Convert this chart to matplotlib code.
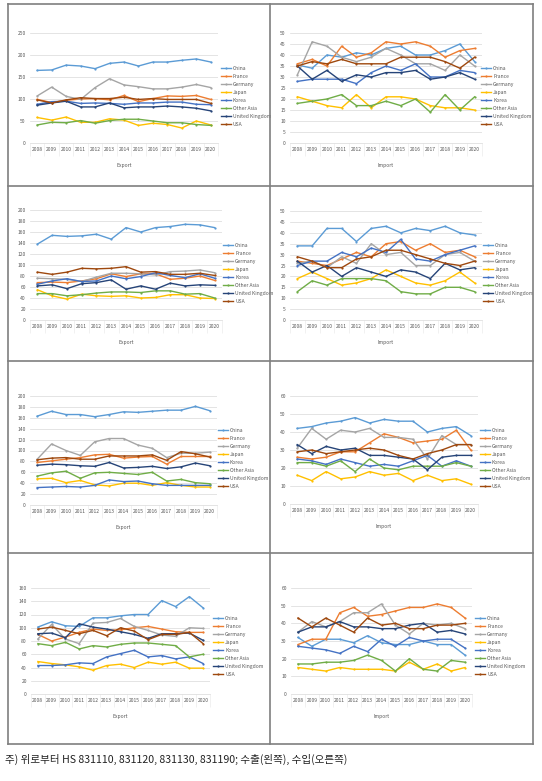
import matplotlib
matplotlib.use("Agg")
import matplotlib.pyplot as plt
from matplotlib.lines import Line2D

years = [str(y) for y in range(2008, 2021)]
series_names = ["China", "France", "Germany", "Japan", "Korea", "Other Asia", "United Kingdom", "USA"]
series_colors = ["#5B9BD5", "#ED7D31", "#A5A5A5", "#FFC000", "#4472C4", "#70AD47", "#264478", "#9E480E"]

# HS 831110 export / import
hs831110_export = {
    "China": [165, 166, 177, 175, 169, 181, 184, 175, 184, 184, 188, 191, 184],
    "France": [99, 92, 97, 100, 101, 98, 108, 94, 101, 107, 106, 108, 99],
    "Germany": [107, 127, 106, 99, 126, 146, 132, 128, 123, 123, 127, 133, 126],
    "Japan": [58, 52, 59, 47, 47, 55, 52, 40, 45, 42, 34, 50, 41],
    "Korea": [88, 94, 95, 90, 91, 90, 88, 91, 91, 93, 93, 88, 87],
    "Other Asia": [41, 47, 46, 51, 45, 51, 54, 54, 50, 46, 46, 42, 40],
    "United Kingdom": [86, 91, 95, 82, 82, 91, 80, 82, 82, 84, 82, 79, 73],
    "USA": [98, 91, 98, 103, 101, 101, 104, 99, 101, 99, 99, 99, 90],
}
hs831110_import = {
    "China": [35.5, 34, 40, 39, 41, 40, 43, 44, 40, 40, 42, 45, 37],
    "France": [36, 38, 35, 44, 39, 41, 46, 45, 46, 44, 39, 42, 43],
    "Germany": [31, 46, 44, 39, 37, 39, 43, 40, 36, 36, 33, 40, 35],
    "Japan": [21, 19, 17, 16, 22, 16, 21, 21, 20, 17, 16, 16, 15],
    "Korea": [28, 29, 29, 29, 27, 32, 35, 33, 36, 30, 30, 33, 32],
    "Other Asia": [18, 19, 20, 22, 17, 17, 19, 17, 20, 14, 22, 15, 21],
    "United Kingdom": [35, 29, 33, 28, 31, 30, 32, 32, 33, 29, 30, 32, 29],
    "USA": [35, 37, 36, 38, 36, 36, 36, 39, 39, 39, 37, 34, 39],
}
# HS 831120
hs831120_export = {
    "China": [138, 154, 152, 153, 156, 147, 168, 160, 168, 170, 174, 173, 168],
    "France": [68, 69, 68, 71, 75, 84, 79, 84, 84, 74, 76, 80, 72],
    "Germany": [76, 75, 74, 70, 78, 85, 85, 84, 82, 88, 89, 91, 86],
    "Japan": [55, 44, 38, 47, 44, 43, 44, 40, 41, 46, 46, 40, 39],
    "Korea": [65, 71, 75, 70, 71, 80, 75, 79, 86, 81, 77, 84, 76],
    "Other Asia": [48, 48, 44, 46, 49, 51, 51, 50, 53, 53, 47, 48, 40],
    "United Kingdom": [62, 64, 57, 66, 68, 73, 56, 62, 56, 67, 62, 64, 63],
    "USA": [87, 83, 87, 94, 93, 94, 97, 87, 88, 83, 83, 85, 81],
}
hs831120_import = {
    "China": [34, 34, 42, 42, 36, 42, 43, 40, 42, 41, 43, 40, 39],
    "France": [27, 26, 25, 28, 31, 29, 35, 36, 32, 35, 31, 32, 29],
    "Germany": [26, 27, 24, 29, 26, 35, 30, 31, 25, 25, 30, 31, 27],
    "Japan": [19, 22, 19, 16, 17, 19, 23, 20, 17, 16, 18, 22, 17],
    "Korea": [25, 27, 27, 31, 29, 33, 31, 37, 28, 27, 30, 32, 34],
    "Other Asia": [13, 18, 16, 19, 19, 19, 18, 13, 12, 12, 15, 15, 13],
    "United Kingdom": [27, 22, 25, 20, 24, 22, 20, 23, 22, 19, 26, 23, 24],
    "USA": [29, 27, 24, 24, 28, 29, 32, 32, 30, 28, 26, 25, 27],
}
# HS 831130
hs831130_export = {
    "China": [163, 172, 166, 166, 162, 166, 171, 170, 172, 174, 174, 181, 173],
    "France": [78, 81, 84, 87, 92, 93, 86, 88, 89, 75, 89, 89, 89],
    "Germany": [84, 112, 100, 91, 116, 122, 122, 110, 104, 87, 95, 95, 97],
    "Japan": [48, 49, 41, 45, 37, 35, 40, 40, 36, 41, 36, 33, 33],
    "Korea": [32, 33, 34, 33, 36, 46, 43, 44, 39, 36, 36, 36, 36],
    "Other Asia": [53, 59, 62, 49, 59, 60, 58, 56, 60, 44, 47, 41, 39],
    "United Kingdom": [73, 75, 74, 72, 71, 78, 68, 69, 71, 67, 70, 77, 72],
    "USA": [83, 86, 87, 84, 84, 90, 90, 90, 92, 82, 98, 94, 88],
}
hs831130_import = {
    "China": [42, 43, 45, 46, 48, 45, 47, 46, 46, 40, 42, 43, 38],
    "France": [26, 25, 26, 29, 29, 34, 39, 37, 34, 35, 36, 41, 30],
    "Germany": [31, 42, 36, 41, 40, 42, 37, 37, 36, 25, 38, 33, 33],
    "Japan": [16, 13, 18, 14, 15, 18, 16, 17, 13, 16, 13, 14, 11],
    "Korea": [25, 24, 22, 25, 23, 21, 22, 21, 24, 27, 21, 24, 21],
    "Other Asia": [23, 23, 21, 24, 18, 25, 20, 19, 21, 21, 21, 23, 21],
    "United Kingdom": [33, 28, 32, 30, 31, 27, 27, 26, 25, 19, 26, 27, 27],
    "USA": [29, 30, 28, 29, 30, 31, 30, 27, 25, 28, 30, 33, 33],
}
# HS 831190
hs831190_export = {
    "China": [101, 109, 103, 102, 115, 115, 118, 120, 120, 141, 132, 147, 130],
    "France": [90, 80, 86, 93, 98, 96, 97, 100, 102, 98, 94, 93, 93],
    "Germany": [83, 105, 83, 76, 107, 108, 114, 102, 96, 89, 87, 100, 99],
    "Japan": [49, 46, 44, 41, 36, 43, 45, 40, 48, 45, 48, 39, 39],
    "Korea": [43, 43, 44, 47, 46, 56, 61, 66, 56, 58, 53, 56, 46],
    "Other Asia": [76, 73, 78, 68, 73, 71, 75, 77, 77, 75, 73, 56, 60],
    "United Kingdom": [91, 92, 85, 106, 101, 98, 94, 90, 84, 91, 91, 92, 81],
    "USA": [98, 101, 96, 91, 96, 88, 100, 95, 82, 90, 90, 93, 76],
}
hs831190_import = {
    "China": [32, 27, 31, 31, 29, 33, 29, 28, 28, 30, 28, 28, 22],
    "France": [28, 31, 31, 46, 49, 44, 45, 47, 49, 49, 51, 49, 43],
    "Germany": [35, 41, 38, 41, 46, 46, 51, 39, 34, 40, 39, 40, 37],
    "Japan": [15, 14, 13, 15, 14, 14, 14, 13, 18, 14, 17, 13, 15],
    "Korea": [27, 26, 25, 23, 27, 24, 31, 27, 32, 30, 31, 31, 26],
    "Other Asia": [17, 17, 18, 18, 19, 22, 19, 13, 20, 14, 13, 19, 18],
    "United Kingdom": [35, 38, 38, 41, 38, 38, 37, 37, 39, 40, 35, 36, 34],
    "USA": [43, 38, 43, 39, 35, 43, 39, 40, 37, 37, 39, 39, 40],
}

footnote = "주) 위로부터 HS 831110, 831120, 831130, 831190; 수출(왼쪽), 수입(오른쪽)"

W, H = 542, 781
fig = plt.figure(figsize=(W / 100, H / 100), dpi=100)
plt.rcParams['font.family'] = ['Noto Sans CJK KR', 'DejaVu Sans']


def fx(px):
    return px / W


def fy(py):
    return 1 - py / H


panels = [
    (hs831110_export, (30, 218, 33, 143), 250, 50, "Export", (221, 66)),
    (hs831110_import, (290, 482, 33, 143), 50, 5, "Import", (481, 66)),
    (hs831120_export, (30, 222, 210, 320), 200, 20, "Export", (223, 243)),
    (hs831120_import, (290, 482, 211, 320), 50, 5, "Import", (483, 243)),
    (hs831130_export, (30, 217, 396, 505), 200, 20, "Export", (218, 428)),
    (hs831130_import, (290, 478, 396, 504), 60, 10, "Import", (480, 428)),
    (hs831190_export, (31, 210, 588, 694), 160, 20, "Export", (213, 616)),
    (hs831190_import, (291, 472, 588, 694), 60, 10, "Import", (475, 616)),
]

fs = 3.6
for data, (l, r, t, b), ymax, ystep, xl, (lx, ly) in panels:
    ax = fig.add_axes([fx(l), fy(b), fx(r - l), (b - t) / H])
    x = list(range(len(years)))
    for name, col in zip(series_names, series_colors):
        ax.plot(x, data[name], color=col, lw=1.0, marker='o', ms=1.6,
                markeredgewidth=0, label=name)
    ax.set_xlim(-0.5, len(years) - 0.5)
    ax.set_ylim(0, ymax)
    ax.set_yticks(list(range(0, ymax + 1, ystep)))
    ax.set_xticks(x)
    ax.set_xticklabels(years)
    ax.set_xticks([i - 0.5 for i in range(len(years) + 1)], minor=True)
    ax.tick_params(axis='both', labelsize=fs, length=0, colors='#595959', pad=3)
    ax.tick_params(axis='x', which='minor', length=9, width=0.4, color='#E6E6E6')
    ax.grid(axis='y', color='#D9D9D9', lw=0.5)
    ax.set_axisbelow(True)
    for s in ['top', 'right', 'left']:
        ax.spines[s].set_visible(False)
    ax.spines['bottom'].set_color('#D9D9D9')
    ax.spines['bottom'].set_linewidth(0.5)
    ax.set_xlabel(xl, fontsize=fs, color='#595959', labelpad=2)
    ax.legend(loc='upper left', bbox_to_anchor=(fx(lx), fy(ly)),
              bbox_transform=fig.transFigure, frameon=False, fontsize=fs,
              handlelength=2.0, handletextpad=0.4, labelspacing=0.6,
              borderpad=0, borderaxespad=0, labelcolor='#595959')

frame_col = '#7F7F7F'
lw = 1.2
xl_, xm_, xr_ = 8, 270, 533
ys_ = [4, 186, 361, 553, 744]
for yy in ys_:
    fig.add_artist(Line2D([fx(xl_), fx(xr_)], [fy(yy), fy(yy)], color=frame_col, lw=lw))
for xx in (xl_, xm_, xr_):
    fig.add_artist(Line2D([fx(xx), fx(xx)], [fy(ys_[0]), fy(ys_[-1])], color=frame_col, lw=lw))

fig.text(fx(5), fy(759), footnote, fontsize=7.6, color='#222222', va='center', ha='left')

fig.savefig("out.png", dpi=100, facecolor='white')
